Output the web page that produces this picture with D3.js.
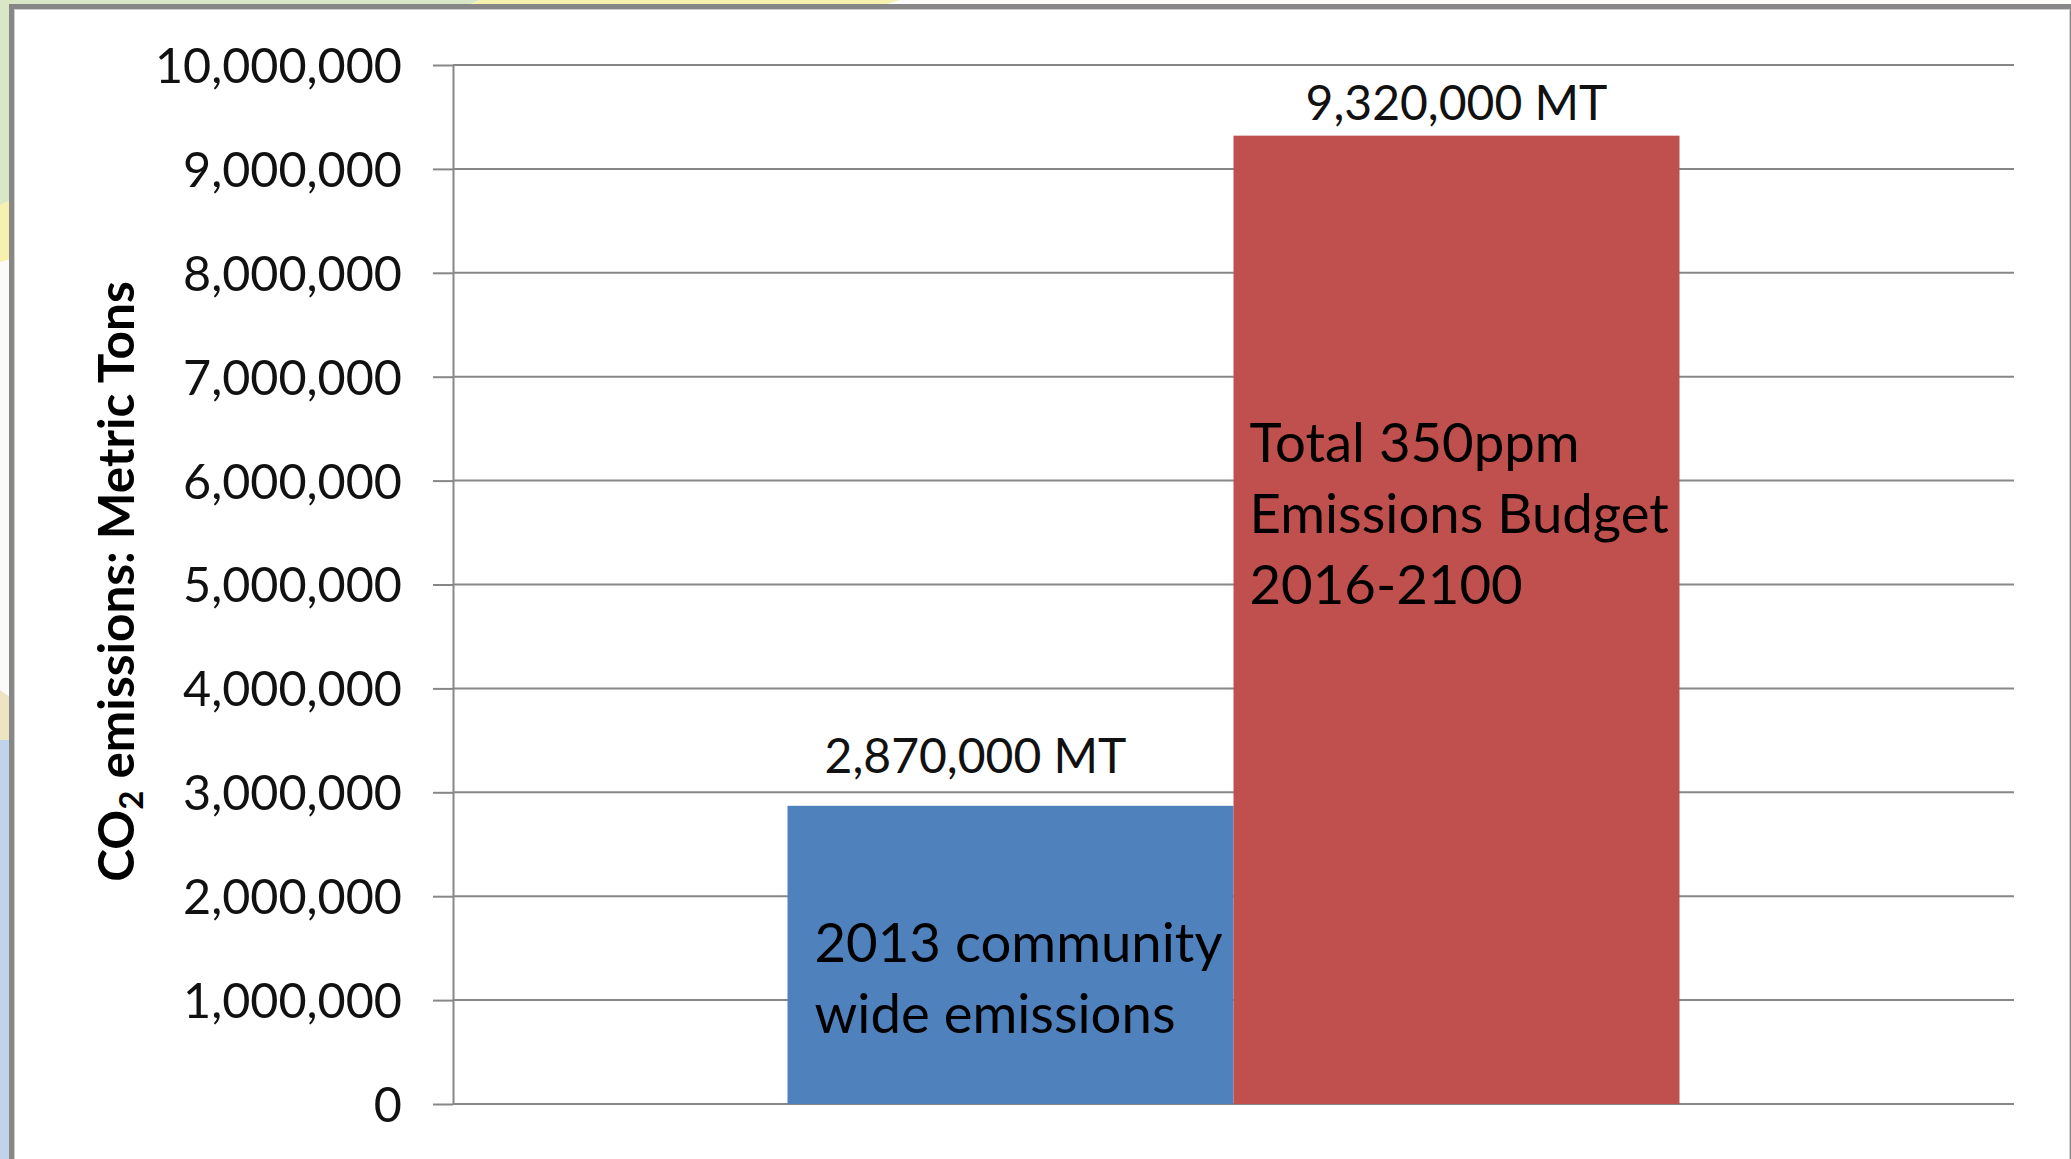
<!DOCTYPE html>
<html lang="en">
<head>
<meta charset="UTF-8">
<title>CO2 emissions budget</title>
<style>
    body{ margin: 0; background: #fff; }
    svg{ display: block; font-family: Lato, "Open Sans", sans-serif; }
</style>
<script src="https://cdn.jsdelivr.net/npm/d3@7/dist/d3.min.js"></script>
</head>
<body>
<script>
    // data
    const categories = ["Emissions"]
    const seriesValues = [2870000, 9320000]
    const valueLabels = ["2,870,000 MT", "9,320,000 MT"]
    const barNotes = [
        ["2013 community", "wide emissions"],
        ["Total 350ppm", "Emissions Budget", "2016-2100"]
    ]
    const noteTops = [1370000, 6180000]   // baseline of first note line, in tons
    const yTicks = [0, 1000000, 2000000, 3000000, 4000000, 5000000, 6000000, 7000000, 8000000, 9000000, 10000000]
    const yTitle = ["CO", "2", " emissions: Metric Tons"]
    const colors = ["#4f81bd", "#c0504d"]

    const width = 2071
    const height = 1159
    const plot = {left: 453, right: 2014, top: 65, bottom: 1104}

    let svg = d3.select("body").append("svg")
        .attr("width", width)
        .attr("height", height)

    // slide background peeking round the chart frame
    let bg = svg.append("g")
    bg.append("rect").attr("width", width).attr("height", height).attr("fill", "#fbfbfa")
    bg.append("path").attr("d", "M0,0 L480,0 L0,205 Z").attr("fill", "#d9e7c6")
    bg.append("path").attr("d", "M480,0 L900,0 L0,262 L0,205 Z").attr("fill", "#f6f1ad")
    bg.append("path").attr("d", "M0,690 L14,700 L14,745 L0,740 Z").attr("fill", "#ece4c3")
    bg.append("rect").attr("x", 0).attr("y", 740).attr("width", 14).attr("height", height - 740).attr("fill", "#bfd4ea")

    // chart frame
    svg.append("rect").attr("x", 9).attr("y", 4).attr("width", width - 9).attr("height", height).attr("fill", "#878787")
    svg.append("rect").attr("x", 14).attr("y", 9).attr("width", width - 16).attr("height", height).attr("fill", "#cfcfcf")
    svg.append("rect").attr("x", 15).attr("y", 10).attr("width", width - 17).attr("height", height).attr("fill", "#ffffff")
    svg.append("line").attr("x1", width - 1.5).attr("x2", width - 1.5).attr("y1", 9).attr("y2", height)
        .attr("stroke", "#d0d0d0").attr("stroke-width", 1)

    let x0 = d3.scaleBand().domain(categories)
        .range([plot.left, plot.right])
        .paddingInner(0).paddingOuter(0.375)
    let x1 = d3.scaleBand().domain(d3.range(seriesValues.length))
        .range([0, x0.bandwidth()])
    let y = d3.scaleLinear().domain([0, 10000000]).range([plot.bottom, plot.top])

    // gridlines
    svg.append("g").selectAll("line")
        .data(yTicks)
        .join("line")
        .attr("x1", plot.left).attr("x2", plot.right)
        .attr("y1", d => y(d)).attr("y2", d => y(d))
        .attr("stroke", "#878787").attr("stroke-width", 2)

    // y axis
    let gy = svg.append("g")
        .attr("transform", `translate(${plot.left},0)`)
        .call(d3.axisLeft(y).tickValues(yTicks).tickFormat(d3.format(","))
            .tickSize(20).tickSizeOuter(0).tickPadding(31))
    gy.select(".domain").attr("stroke", "#878787").attr("stroke-width", 2)
    gy.selectAll(".tick line").attr("stroke", "#878787").attr("stroke-width", 2)
    gy.selectAll(".tick text")
        .attr("font-family", "Lato, 'Open Sans', sans-serif")
        .attr("font-size", 48.5)
        .attr("dy", "0.36em")
        .attr("fill", "#111")

    // bars
    let gBars = svg.append("g")
        .attr("transform", `translate(${x0(categories[0])},0)`)
    gBars.selectAll("rect")
        .data(seriesValues)
        .join("rect")
        .attr("x", (d, i) => x1(i))
        .attr("width", x1.bandwidth())
        .attr("y", d => y(d))
        .attr("height", d => y(0) - y(d))
        .attr("fill", (d, i) => colors[i])

    // value labels above bars (dragged by hand in the original)
    const labelShift = [{dx: -35, dy: -33}, {dx: 0, dy: -16}]
    gBars.selectAll("text.value")
        .data(seriesValues)
        .join("text")
        .attr("class", "value")
        .attr("x", (d, i) => x1(i) + x1.bandwidth() / 2 + labelShift[i].dx)
        .attr("y", (d, i) => y(d) + labelShift[i].dy)
        .attr("text-anchor", "middle")
        .attr("font-size", 48)
        .attr("fill", "#111")
        .text((d, i) => valueLabels[i])

    // text boxes inside the bars
    const noteInset = [27, 16]
    barNotes.forEach((lines, i) => {
        let t = gBars.append("text")
            .attr("x", x1(i) + noteInset[i])
            .attr("y", y(noteTops[i]))
            .attr("font-size", 54.5)
            .attr("fill", "#000")
        t.selectAll("tspan")
            .data(lines)
            .join("tspan")
            .attr("x", x1(i) + noteInset[i])
            .attr("dy", (d, j) => j === 0 ? 0 : 71)
            .text(d => d)
    })

    // y axis title
    let title = svg.append("text")
        .attr("transform", `translate(116,${(plot.top + plot.bottom) / 2 - 3}) rotate(-90)`)
        .attr("text-anchor", "middle")
        .attr("dy", "0.36em")
        .attr("font-weight", "bold")
        .attr("font-size", 49.5)
        .attr("fill", "#000")
    title.append("tspan").text(yTitle[0])
    title.append("tspan").attr("font-size", 33).attr("dy", 9).text(yTitle[1])
    title.append("tspan").attr("dy", -9).text(yTitle[2])
</script>
</body>
</html>
